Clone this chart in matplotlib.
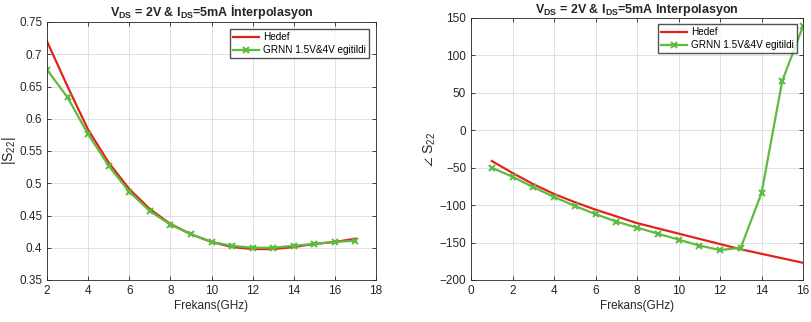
import matplotlib.pyplot as plt

plt.rcParams['font.family'] = ['Liberation Sans', 'DejaVu Sans']
plt.rcParams['mathtext.fontset'] = 'custom'
plt.rcParams['mathtext.rm'] = 'Liberation Sans'
plt.rcParams['mathtext.bf'] = 'Liberation Sans:bold'

# left panel: |S22| magnitude
freq_mag = [2, 3, 4, 5, 6, 7, 8, 9, 10, 11, 12, 13, 14, 15, 16, 17]
hedef_mag = [0.720, 0.650, 0.583, 0.532, 0.491, 0.460, 0.437, 0.421, 0.409,
             0.401, 0.398, 0.398, 0.401, 0.406, 0.409, 0.414]
grnn_mag = [0.676, 0.633, 0.576, 0.527, 0.487, 0.457, 0.436, 0.421, 0.409,
            0.403, 0.400, 0.400, 0.403, 0.406, 0.409, 0.411]

# right panel: angle of S22
freq_ang = [1, 2, 3, 4, 5, 6, 7, 8, 9, 10, 11, 12, 13, 14, 15, 16]
hedef_ang = [-41, -57, -72, -85, -96, -106, -115, -124, -131, -138, -145,
             -152, -159, -165, -171, -177]
grnn_ang = [-50, -62, -76, -89, -101, -112, -122, -130, -138, -146, -154,
            -160, -157, -84, 66, 139]

red = '#e2231a'
green = '#5dbb3f'
txt = '#262626'

fig = plt.figure(figsize=(8.11, 3.22), dpi=100)
ax1 = fig.add_axes([47 / 811, 1 - 280 / 322, 329 / 811, 258 / 322])
ax2 = fig.add_axes([471 / 811, 1 - 280 / 322, 332 / 811, 262 / 322])

for ax in (ax1, ax2):
    ax.grid(True, color='#dcdcdc', linewidth=0.6)
    ax.set_axisbelow(True)
    ax.tick_params(labelsize=8.5, colors=txt, direction='in', length=3, width=0.6,
                   top=True, right=True)
    for s in ax.spines.values():
        s.set_color('#262626')
        s.set_linewidth(0.6)
    ax.set_xlabel('Frekans(GHz)', fontsize=8.5, color=txt, labelpad=2)

ax1.plot(freq_mag, hedef_mag, color=red, lw=1.6, label='Hedef')
ax1.plot(freq_mag, grnn_mag, color=green, lw=1.6, marker='x', ms=4, mew=1.5,
         label='GRNN 1.5V&4V egitildi')
ax1.set_xlim(2, 18)
ax1.set_ylim(0.35, 0.75)
ax1.set_xticks(range(2, 19, 2))
ax1.set_yticks([0.35, 0.4, 0.45, 0.5, 0.55, 0.6, 0.65, 0.7, 0.75])
ax1.set_yticklabels(['0.35', '0.4', '0.45', '0.5', '0.55', '0.6', '0.65', '0.7', '0.75'])
ax1.set_ylabel('|S$_{22}$|', fontsize=10, color=txt, labelpad=1)
ax1.set_title('V$_{\\mathbf{DS}}$ = 2V & I$_{\\mathbf{DS}}$=5mA İnterpolasyon',
              fontsize=9, fontweight='bold', color=txt, pad=4)
ax1.legend(loc='upper right', fontsize=7.2, frameon=True, fancybox=False,
           edgecolor='#262626', borderaxespad=0.7, handlelength=2.6,
           borderpad=0.3, labelspacing=0.3, handletextpad=0.4)

ax2.plot(freq_ang, hedef_ang, color=red, lw=1.6, label='Hedef')
ax2.plot(freq_ang, grnn_ang, color=green, lw=1.6, marker='x', ms=4, mew=1.5,
         label='GRNN 1.5V&4V egitildi')
ax2.set_xlim(0, 16)
ax2.set_ylim(-200, 150)
ax2.set_xticks(range(0, 17, 2))
ax2.set_yticks(range(-200, 151, 50))
ax2.set_ylabel('$\\angle$ S$_{22}$', fontsize=10, color=txt, labelpad=1)
ax2.set_title('V$_{\\mathbf{DS}}$ = 2V & I$_{\\mathbf{DS}}$=5mA Interpolasyon',
              fontsize=9, fontweight='bold', color=txt, pad=3.5)
ax2.legend(loc='upper right', fontsize=7.2, frameon=True, fancybox=False,
           edgecolor='#262626', borderaxespad=0.6, handlelength=2.6,
           borderpad=0.3, labelspacing=0.3, handletextpad=0.4)

plt.savefig('out.png', dpi=100)
